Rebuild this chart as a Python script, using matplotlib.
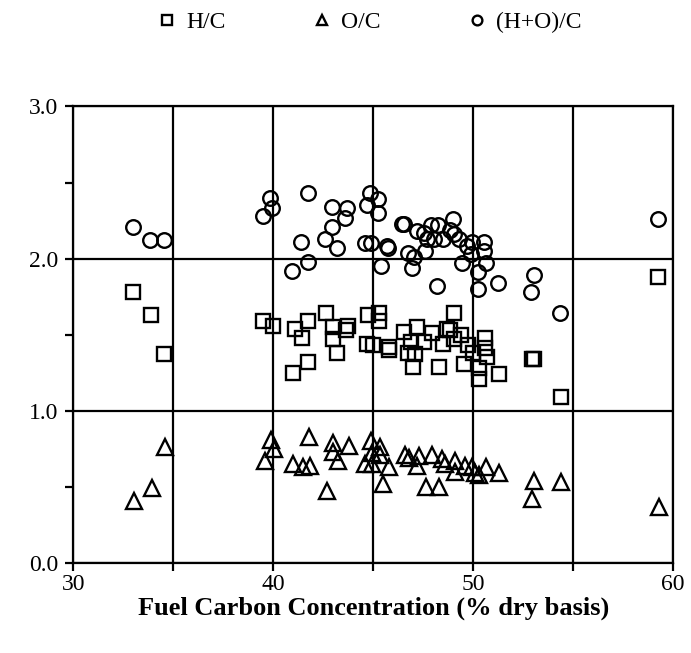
import matplotlib
matplotlib.use("Agg")
import matplotlib.pyplot as plt
from matplotlib.lines import Line2D
from matplotlib.ticker import MultipleLocator

plt.rcParams["font.family"] = ["Liberation Serif", "DejaVu Serif"]

# ---- Data ----
hc_x = [33.0, 33.87, 34.55, 39.5, 39.97, 40.97, 41.09, 41.42, 41.75, 41.75,
        42.64, 43.0, 43.0, 43.2, 43.64, 43.72, 44.67, 44.75, 45.0, 45.28, 45.28,
        45.77, 45.77, 46.53, 46.75, 46.9, 47.0, 47.08, 47.17, 47.55, 47.92, 48.27,
        48.5, 48.7, 48.84, 49.05, 49.05, 49.4, 49.52, 49.72, 49.97, 50.27, 50.27,
        50.57, 50.57, 50.7, 51.28, 52.95, 53.05, 54.38, 59.25]
hc_y = [1.78, 1.63, 1.37, 1.59, 1.56, 1.25, 1.54, 1.48, 1.59, 1.32,
        1.64, 1.55, 1.47, 1.38, 1.53, 1.56, 1.44, 1.63, 1.43, 1.64, 1.59,
        1.42, 1.40, 1.52, 1.38, 1.45, 1.29, 1.37, 1.55, 1.45, 1.51, 1.29,
        1.44, 1.54, 1.53, 1.64, 1.47, 1.50, 1.31, 1.43, 1.38, 1.28, 1.21,
        1.48, 1.41, 1.35, 1.24, 1.34, 1.34, 1.09, 1.88]

oc_x = [33.04, 33.92, 34.59, 39.59, 39.88, 40.04, 41.0, 41.47, 41.8, 41.85,
        42.7, 43.0, 43.0, 43.25, 43.8, 44.6, 44.87, 44.92, 44.95, 45.33, 45.33,
        45.47, 45.77, 46.58, 46.8, 47.17, 47.3, 47.64, 47.92, 48.3, 48.42, 48.6,
        49.07, 49.07, 49.6, 49.92, 50.08, 50.3, 50.67, 51.3, 52.97, 53.06, 54.4, 59.3]
oc_y = [0.41, 0.49, 0.76, 0.67, 0.81, 0.75, 0.65, 0.63, 0.83, 0.64,
        0.47, 0.79, 0.73, 0.67, 0.77, 0.65, 0.80, 0.72, 0.65, 0.76, 0.71,
        0.52, 0.63, 0.71, 0.69, 0.64, 0.70, 0.50, 0.71, 0.50, 0.68, 0.65,
        0.67, 0.60, 0.64, 0.63, 0.59, 0.58, 0.63, 0.59, 0.42, 0.54, 0.53, 0.37]

hoc_x = [32.97, 33.84, 34.54, 39.49, 39.84, 39.95, 40.95, 41.39, 41.72, 41.72,
         42.6, 42.94, 42.95, 43.17, 43.6, 43.7, 44.58, 44.7, 44.84, 44.87,
         45.25, 45.25, 45.37, 45.7, 45.75, 46.45, 46.55, 46.75, 46.92, 47.05, 47.17,
         47.55, 47.58, 47.67, 47.9, 48.05, 48.2, 48.25, 48.5, 48.84, 49.0, 49.05,
         49.3, 49.45, 49.67, 49.89, 49.95, 50.25, 50.25, 50.55, 50.55, 50.67,
         51.25, 52.92, 53.03, 54.37, 59.25]
hoc_y = [2.21, 2.12, 2.12, 2.28, 2.40, 2.33, 1.92, 2.11, 1.98, 2.43,
         2.13, 2.34, 2.21, 2.07, 2.27, 2.33, 2.10, 2.35, 2.43, 2.10,
         2.39, 2.30, 1.95, 2.08, 2.07, 2.23, 2.23, 2.04, 1.94, 2.01, 2.18,
         2.17, 2.05, 2.13, 2.22, 2.13, 1.82, 2.22, 2.13, 2.19, 2.26, 2.16,
         2.13, 1.97, 2.08, 2.03, 2.11, 1.91, 1.80, 2.11, 2.05, 1.97,
         1.84, 1.78, 1.89, 1.64, 2.26]

# ---- Plot ----
fig = plt.figure(figsize=(6.91, 6.53), dpi=100)
ax = fig.add_axes([0.106, 0.138, 0.868, 0.699])

mk = dict(linestyle="none", mfc="none", mec="black", mew=1.7)
ax.plot(hoc_x, hoc_y, marker="o", markersize=10.5, **mk)
ax.plot(hc_x, hc_y, marker="s", markersize=10.5, **mk)
ax.plot(oc_x, oc_y, marker="^", markersize=11.5, **mk)

ax.set_xlim(30, 60)
ax.set_ylim(0, 3)
ax.set_xticks([30, 35, 40, 45, 50, 55, 60])
ax.set_xticklabels(["30", "", "40", "", "50", "", "60"])
ax.set_yticks([0, 1, 2, 3])
ax.set_yticklabels(["0.0", "1.0", "2.0", "3.0"])
ax.yaxis.set_minor_locator(MultipleLocator(0.5))
ax.grid(True, which="major", color="black", linewidth=1.6)
ax.set_axisbelow(True)
for s in ax.spines.values():
    s.set_linewidth(1.6)
ax.tick_params(which="both", direction="out", length=6, width=1.6,
               labelsize=17, pad=5)
ax.tick_params(axis="x", pad=2)
ax.set_xlabel("Fuel Carbon Concentration (% dry basis)", fontsize=19,
              fontweight="bold", labelpad=1)

handles = [
    Line2D([], [], marker="s", markersize=7, **mk),
    Line2D([], [], marker="^", markersize=7, **mk),
    Line2D([], [], marker="o", markersize=7, **mk),
]
fig.legend(handles, ["H/C", "O/C", "(H+O)/C"], loc="upper center",
           bbox_to_anchor=(0.535, 1.015), ncol=3, frameon=False, fontsize=17,
           handlelength=0.8, handletextpad=0.4, columnspacing=3.7)

fig.savefig("out.png", dpi=100)
